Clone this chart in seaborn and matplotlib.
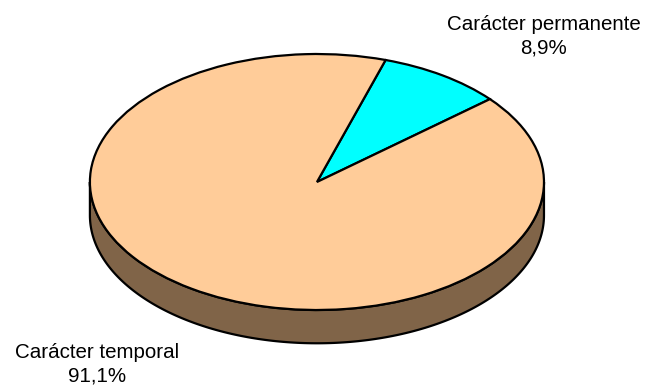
import numpy as np
import matplotlib
matplotlib.use("Agg")
import matplotlib.pyplot as plt
import seaborn as sns

categories = ["Carácter permanente", "Carácter temporal"]
shares = [8.9, 91.1]
slice_colors = ["#00FFFF", "#FFCC99"]
side_color = "#806448"

sns.set_theme(style="white")
plt.rcParams["font.family"] = ["Liberation Sans", "DejaVu Sans"]

fig = plt.figure(figsize=(6.55, 3.85), dpi=100)
ax = fig.add_axes([0, 0, 1, 1])

# depth of the disc side, in vertical data units (radius = 1)
depth = 0.26

# visible front rim of the disc
t = np.linspace(np.pi, 2 * np.pi, 200)
xs = np.concatenate([np.cos(t), np.cos(t[::-1])])
ys = np.concatenate([np.sin(t), np.sin(t[::-1]) - depth])
ax.fill(xs, ys, facecolor=side_color, edgecolor="black", linewidth=1.6, zorder=1)

wedges, _ = ax.pie(
    shares,
    colors=slice_colors,
    startangle=72.4,
    counterclock=False,
    radius=1.0,
    wedgeprops=dict(edgecolor="black", linewidth=1.6, zorder=2),
)
for w in wedges:
    w.set_zorder(2)

ax.set_aspect("auto")
ax.set_xlim(-1.396, 1.489)
ax.set_ylim(-1.586, 1.422)
ax.axis("off")

def pct(v):
    return f"{v:.1f}%".replace(".", ",")

label_pos = [(1.0, 1.135), (-0.969, -1.425)]
for name, v, (lx, ly) in zip(categories, shares, label_pos):
    ax.text(lx, ly, f"{name}\n{pct(v)}", ha="center", va="center",
            fontsize=14.8, color="black", linespacing=1.3)

fig.savefig("out.png", dpi=100)
